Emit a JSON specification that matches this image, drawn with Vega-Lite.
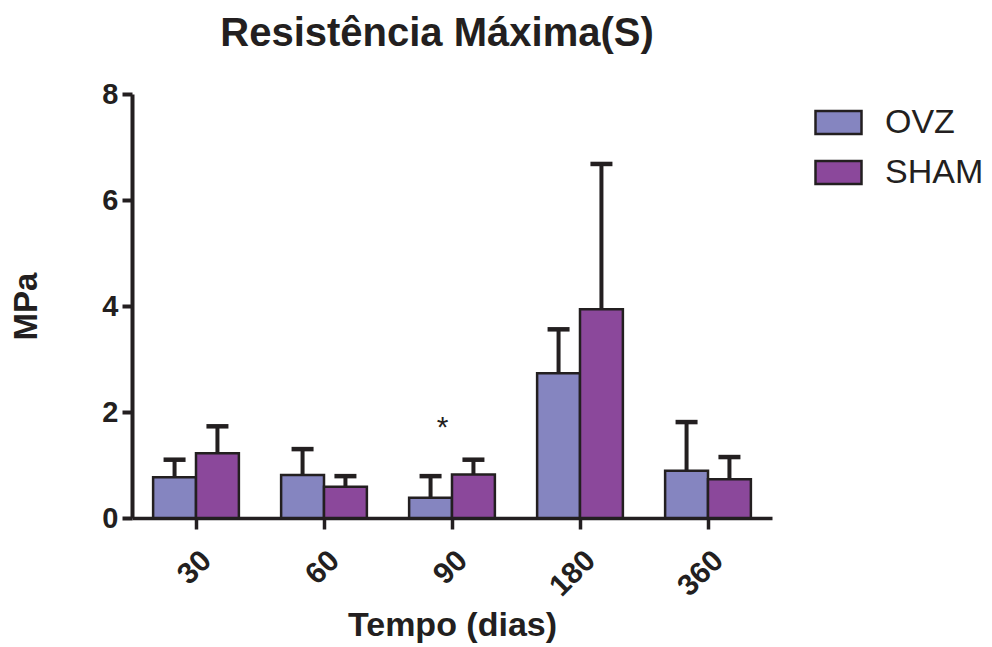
{
  "$schema": "https://vega.github.io/schema/vega-lite/v6.json",
  "width": 640,
  "height": 424,
  "autosize": "none",
  "padding": {"left": 132, "top": 94, "right": 220, "bottom": 129},
  "background": "white",
  "config": {
    "font": "Liberation Sans",
    "view": {"stroke": null}
  },
  "title": {
    "text": "Resistência Máxima(S)",
    "font": "Liberation Sans",
    "fontSize": 40,
    "fontWeight": "bold",
    "color": "#231f20",
    "anchor": "middle",
    "dx": -15,
    "offset": 26
  },
  "datasets": {
    "bars": [
      {"tempo": "30", "grupo": "OVZ", "media": 0.77, "sup": 1.10},
      {"tempo": "30", "grupo": "SHAM", "media": 1.22, "sup": 1.73},
      {"tempo": "60", "grupo": "OVZ", "media": 0.81, "sup": 1.30},
      {"tempo": "60", "grupo": "SHAM", "media": 0.59, "sup": 0.79},
      {"tempo": "90", "grupo": "OVZ", "media": 0.38, "sup": 0.79},
      {"tempo": "90", "grupo": "SHAM", "media": 0.82, "sup": 1.10},
      {"tempo": "180", "grupo": "OVZ", "media": 2.73, "sup": 3.56},
      {"tempo": "180", "grupo": "SHAM", "media": 3.94, "sup": 6.68},
      {"tempo": "360", "grupo": "OVZ", "media": 0.89, "sup": 1.81},
      {"tempo": "360", "grupo": "SHAM", "media": 0.73, "sup": 1.15}
    ],
    "marca": [
      {"tempo": "90", "grupo": "OVZ", "y": 1.84, "label": "*"}
    ]
  },
  "encoding": {
    "x": {
      "field": "tempo",
      "type": "nominal",
      "sort": ["30", "60", "90", "180", "360"],
      "scale": {"paddingInner": 0.33, "paddingOuter": 0.165},
      "axis": {
        "title": "Tempo (dias)",
        "titleFont": "Liberation Sans",
        "titleFontSize": 34,
        "titleFontWeight": "bold",
        "titleColor": "#231f20",
        "titlePadding": 7,
        "labelAngle": -45,
        "labelFont": "Liberation Sans",
        "labelFontSize": 30,
        "labelFontWeight": "bold",
        "labelColor": "#231f20",
        "labelPadding": 16,
        "labelDx": -3,
        "domainColor": "#231f20",
        "domainWidth": 3.5,
        "tickColor": "#231f20",
        "tickWidth": 3.5,
        "tickSize": 11,
        "grid": false
      }
    },
    "xOffset": {"field": "grupo", "type": "nominal", "sort": ["OVZ", "SHAM"], "scale": {"paddingInner": 0, "paddingOuter": 0}}
  },
  "layer": [
    {
      "data": {"name": "bars"},
      "mark": {"type": "rule", "stroke": "#231f20", "strokeWidth": 4},
      "encoding": {
        "y": {"field": "media", "type": "quantitative"},
        "y2": {"field": "sup"}
      }
    },
    {
      "data": {"name": "bars"},
      "mark": {"type": "tick", "color": "#231f20", "size": 22, "thickness": 4.5, "opacity": 1},
      "encoding": {
        "y": {"field": "sup", "type": "quantitative"}
      }
    },
    {
      "data": {"name": "bars"},
      "mark": {"type": "bar", "stroke": "#231f20", "strokeWidth": 2.5, "opacity": 1},
      "encoding": {
        "y": {
          "field": "media",
          "type": "quantitative",
          "scale": {"domain": [0, 8], "nice": false},
          "axis": {
            "title": "MPa",
            "titleFont": "Liberation Sans",
            "titleFontSize": 33,
            "titleFontWeight": "bold",
            "titleColor": "#231f20",
            "titlePadding": 58,
            "values": [0, 2, 4, 6, 8],
            "labelFont": "Liberation Sans",
            "labelFontSize": 29,
            "labelFontWeight": "bold",
            "labelColor": "#231f20",
            "labelPadding": 4,
            "domainColor": "#231f20",
            "domainWidth": 4,
            "tickColor": "#231f20",
            "tickWidth": 4,
            "tickSize": 10,
            "grid": false
          }
        },
        "color": {
          "field": "grupo",
          "type": "nominal",
          "sort": ["OVZ", "SHAM"],
          "scale": {"domain": ["OVZ", "SHAM"], "range": ["#8585c0", "#8b489b"]},
          "legend": {
            "title": null,
            "orient": "none",
            "legendX": 682,
            "legendY": 4,
            "symbolType": "M-1,-0.5H1V0.5H-1Z",
            "symbolSize": 2116,
            "symbolStrokeColor": "#231f20",
            "symbolStrokeWidth": 2.5,
            "symbolOpacity": 1,
            "labelFont": "Liberation Sans",
            "labelFontSize": 34,
            "labelColor": "#231f20",
            "labelOffset": 22,
            "rowPadding": 8
          }
        }
      }
    },
    {
      "data": {"name": "marca"},
      "mark": {"type": "text", "fontSize": 30, "color": "#231f20", "dx": 12, "dy": 8, "baseline": "middle"},
      "encoding": {
        "y": {"field": "y", "type": "quantitative"},
        "text": {"field": "label"}
      }
    }
  ]
}
